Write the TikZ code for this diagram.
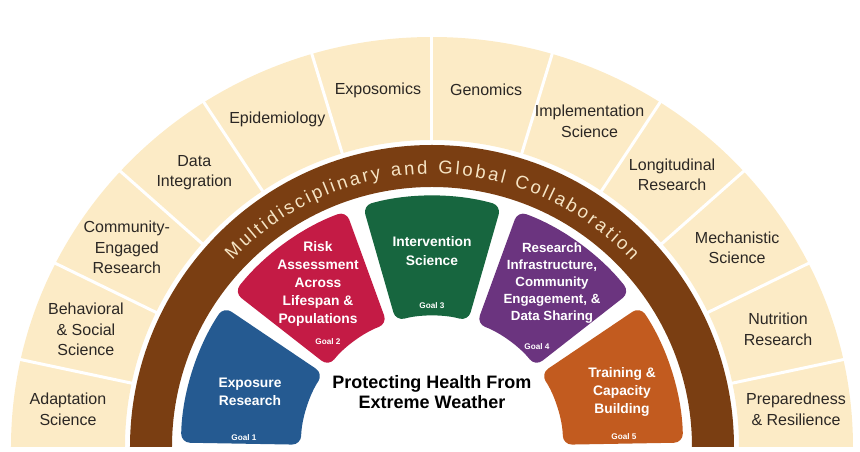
\documentclass[tikz,border=0pt]{standalone}
\usepackage{fontspec}
\setmainfont{Liberation Sans}
\usetikzlibrary{decorations.text}
\definecolor{cream}{HTML}{FCEBC6}
\definecolor{band}{HTML}{7A3E12}
\definecolor{bandtext}{HTML}{F6E4C4}
\definecolor{goalblue}{HTML}{255A91}
\definecolor{goalred}{HTML}{C41B45}
\definecolor{goalgreen}{HTML}{17663F}
\definecolor{goalpurple}{HTML}{6B347F}
\definecolor{goalorange}{HTML}{C25B1F}
\definecolor{ink}{HTML}{2B2724}
\tikzset{
  sep/.style={draw=white, line width=3pt},
  field/.style={text=ink, align=center, font=\fontsize{16}{20.5}\selectfont},
  goal/.style={text=white, align=center, font=\bfseries\fontsize{13.8}{18.2}\selectfont},
  goalno/.style={text=white, font=\bfseries\fontsize{8.2}{10}\selectfont},
  hubtitle/.style={text=black, align=center, font=\bfseries\fontsize{18}{20.5}\selectfont},
  wedge/.style={rounded corners=9pt}
}

\begin{document}
\begin{tikzpicture}[x=1pt, y=1pt]
  \useasboundingbox (-432,-5) rectangle (428,447);

  % outer ring of research fields
  \fill[cream] (-421,0) arc[start angle=180, end angle=0, x radius=421, y radius=410]
    -- (307,0) arc[start angle=0, end angle=180, radius=307] -- cycle;
  \foreach \a in {12,26,41.5,56.5,73,90,107,123.5,138.5,154,168}
    \draw[sep] (\a:300) -- (\a:440);

  \foreach \a/\name/\txt in {174/adapt/{Adaptation\\Science},
      161/behav/{Behavioral\\\& Social\\Science},
      146.5/commu/{Community-\\Engaged\\Research},
      130.5/datai/{Data\\Integration},
      115/epide/{Epidemiology},
      98.5/expos/{Exposomics},
      81.5/genom/{Genomics},
      64.5/imple/{Implementation\\Science},
      49/longi/{Longitudinal\\Research},
      33.5/mecha/{Mechanistic\\Science},
      19/nutri/{Nutrition\\Research},
      6/prepa/{Preparedness\\\& Resilience}}
    \node[field] (\name) at ({366*cos(\a)},{361*sin(\a)}) {\txt};

  % collaboration band
  \fill[band] (180:302) arc[start angle=180, end angle=0, radius=302]
    -- (0:260) arc[start angle=0, end angle=180, radius=260] -- cycle;
  \path[decorate, decoration={text along path, text align={fit to path}, text color=bandtext,
      text={|\fontsize{18.5}{20}\selectfont|Multidisciplinary and Global Collaboration}}]
    (137:273) arc[start angle=137, end angle=43, radius=273];

  % goals
  \foreach \a/\b/\c in {179/146/goalblue, 142/110/goalred, 106/74/goalgreen,
      70/38/goalpurple, 34/1/goalorange}
    \fill[\c, wedge] (\a:191) -- (\a:251) arc[start angle=\a, end angle=\b, radius=251]
      -- (\b:131) arc[start angle=\b, end angle=\a, radius=131] -- cycle;

  \node[goal] (g1) at (-182,55) {Exposure\\Research};
  \node[goalno] (g1no) at (-188,9) {Goal 1};
  \node[goal] (g2) at (-114,163) {Risk\\Assessment\\Across\\Lifespan \&\\Populations};
  \node[goalno] (g2no) at (-104,105) {Goal 2};
  \node[goal] (g3) at (0,196) {Intervention\\Science};
  \node[goalno] (g3no) at (0,141) {Goal 3};
  \node[goal, font=\bfseries\fontsize{13.3}{17}\selectfont] (g4) at (120,164)
    {Research\\Infrastructure,\\Community\\Engagement, \&\\Data Sharing};
  \node[goalno] (g4no) at (105,100) {Goal 4};
  \node[goal] (g5) at (190,55) {Training \&\\Capacity\\Building};
  \node[goalno] (g5no) at (192,10) {Goal 5};

  \node[hubtitle] (hub) at (0,55) {Protecting Health From\\Extreme Weather};
\end{tikzpicture}
\end{document}
